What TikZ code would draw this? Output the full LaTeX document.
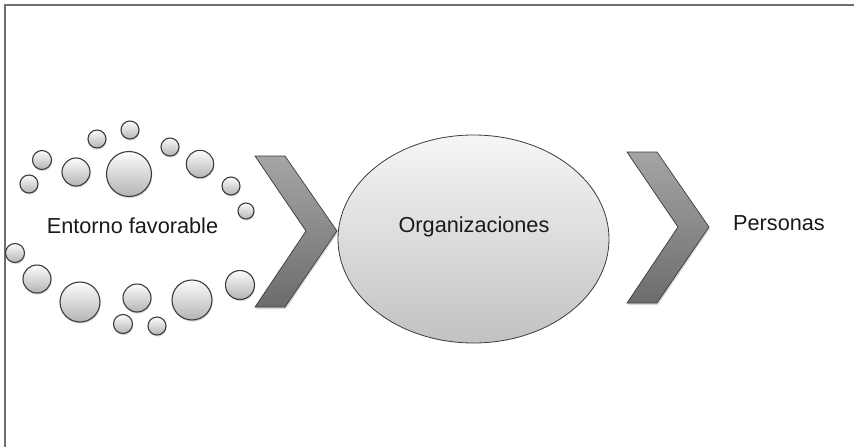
\documentclass[tikz,border=0pt]{standalone}
\usepackage{fontspec}
\setmainfont{Liberation Sans}
\usetikzlibrary{shapes.geometric,shadows}
\definecolor{framegray}{HTML}{6E6E6E}
\definecolor{edgegray}{HTML}{3C3C3C}
\definecolor{chevtop}{HTML}{A4A6A4}
\definecolor{chevbot}{HTML}{6C6C6C}
\definecolor{balltop}{HTML}{FCFCFC}
\definecolor{ballbot}{HTML}{B4B4B4}
\definecolor{ovaltop}{HTML}{F6F6F6}
\definecolor{ovalbot}{HTML}{C2C2C2}
\definecolor{textblack}{HTML}{1A1A1A}
\begin{document}
\begin{tikzpicture}[x=1pt, y=-1pt,
        bubble/.style={draw=edgegray, line width=1.1pt, top color=balltop, bottom color=ballbot,
            drop shadow={shadow xshift=0.6pt, shadow yshift=-1.6pt, opacity=0.3}},
        chevron/.style={draw=edgegray, line width=0.7pt, top color=chevtop, bottom color=chevbot,
            drop shadow={shadow xshift=0.8pt, shadow yshift=-2pt, opacity=0.3}},
        oval/.style={ellipse, draw=edgegray, line width=0.8pt, top color=ovaltop, bottom color=ovalbot,
            minimum width=271pt, minimum height=208pt, inner sep=0pt},
        caption/.style={anchor=base, text=textblack, font=\fontsize{21.7}{26}\selectfont}]
        \useasboundingbox (0, 0) rectangle (854, 447);
        % frame
        \draw[framegray, line width=1.7pt] (5, 447) -- (5, 5) -- (854, 5);
        % bubbles round the first label
        \foreach \bx/\by/\br in {130/130/9, 97/139/9, 170/147/9, 42/160/9.5, 76/172/14,
                129/174/22.5, 200/164/13.7, 29/184/9, 231/186/9, 246/211/8,
                15/253/9.5, 37/279/14, 80/302/20, 137/298/14, 192/300/20,
                240/285/14.5, 123/324/9.5, 157/326/9}
            \draw[bubble] (\bx, \by) circle[radius=\br pt];
        \node[caption] (entorno) at (132.5, 233) {Entorno favorable};
        % chevrons
        \draw[chevron] (255, 156) -- (285, 156) -- (337, 231) -- (285, 307) -- (255, 307) -- (306, 231) -- cycle;
        \draw[chevron] (627, 152) -- (657, 152) -- (709, 227) -- (657, 303) -- (627, 303) -- (678, 227) -- cycle;
        % central oval
        \node[oval] (org) at (473.5, 239) {};
        \node[caption] (orgtext) at (474, 232) {Organizaciones};
        \node[caption] (personas) at (779, 230) {Personas};
    \end{tikzpicture}
\end{document}
